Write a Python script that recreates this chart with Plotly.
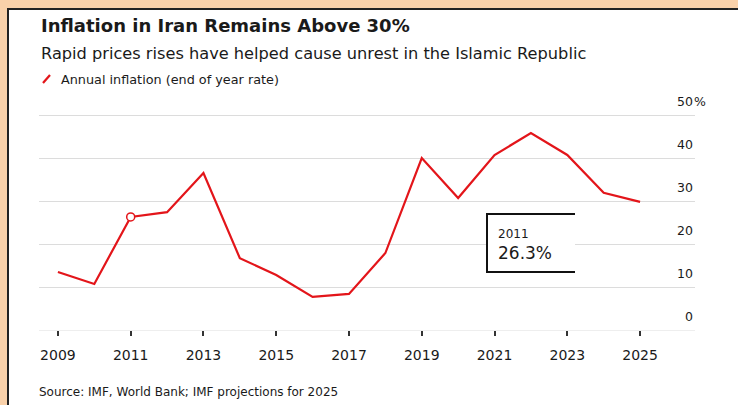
import plotly.graph_objects as go

years = list(range(2009, 2026))
inflation = [13.5, 10.7, 26.3, 27.4, 36.5, 16.7, 12.8, 7.7, 8.4, 17.9, 40.0, 30.7, 40.7, 45.8, 40.7, 31.9, 29.8]
x_tick_vals = [2009, 2011, 2013, 2015, 2017, 2019, 2021, 2023, 2025]
x_tick_text = [str(v) for v in x_tick_vals]
y_tick_vals = [0, 10, 20, 30, 40, 50]
y_tick_text = ["0", "10", "20", "30", "40", "50"]
y_unit = "%"

title = "Inflation in Iran Remains Above 30%"
subtitle = "Rapid prices rises have helped cause unrest in the Islamic Republic"
legend_label = "Annual inflation (end of year rate)"
source = "Source: IMF, World Bank; IMF projections for 2025"
callout_year = 2011
callout_value = 26.3

W, H = 738, 405
L, R, T, B = 39, 695, 113, 330  # plot area in pixels
PW, PH = R - L, B - T
Y_TOP = (B - T) / 4.3

def px(xp):
    return (xp - L) / PW

def py(yp):
    return (B - yp) / PH

RED = "#E3151A"
PEACH = "#F9D1AA"
TXT = "#1a1a1a"
FONT = "DejaVu Sans, Liberation Sans, Arial, sans-serif"

fig = go.Figure()
fig.add_trace(go.Scatter(
    x=years, y=inflation, mode="lines",
    line=dict(color=RED, width=2.2), hoverinfo="skip", showlegend=False))
ci = years.index(callout_year)
fig.add_trace(go.Scatter(
    x=[years[ci]], y=[inflation[ci]], mode="markers",
    marker=dict(size=8, color="white", line=dict(color=RED, width=1.5)),
    hoverinfo="skip", showlegend=False))

shapes = [
    # white panel with dark frame
    dict(type="rect", xref="paper", yref="paper",
         x0=px(8), x1=px(745), y0=py(412), y1=py(9),
         fillcolor="white", line=dict(color="#222", width=2), layer="below"),
    # legend swatch
    dict(type="line", xref="paper", yref="paper",
         x0=px(43), x1=px(50), y0=py(83), y1=py(75),
         line=dict(color=RED, width=2.2)),
    # callout box fill
    dict(type="rect", xref="paper", yref="paper",
         x0=px(487), x1=px(575), y0=py(272), y1=py(214),
         fillcolor="white", line=dict(width=0)),
    # callout bracket
    dict(type="path", xref="paper", yref="paper",
         path=f"M {px(575)} {py(214)} L {px(487)} {py(214)} L {px(487)} {py(272)} L {px(575)} {py(272)}",
         line=dict(color="#111", width=2)),
]

annotations = [
    dict(text=f"<b>{title}</b>", x=px(39), y=py(25), xref="paper", yref="paper",
         xanchor="left", yanchor="middle", showarrow=False,
         font=dict(size=18, color=TXT, family=FONT)),
    dict(text=subtitle, x=px(39), y=py(53), xref="paper", yref="paper",
         xanchor="left", yanchor="middle", showarrow=False,
         font=dict(size=16.2, color=TXT, family=FONT)),
    dict(text=legend_label, x=px(59), y=py(79), xref="paper", yref="paper",
         xanchor="left", yanchor="middle", showarrow=False,
         font=dict(size=12.8, color=TXT, family=FONT)),
    dict(text=source, x=px(37), y=py(392), xref="paper", yref="paper",
         xanchor="left", yanchor="middle", showarrow=False,
         font=dict(size=12, color=TXT, family=FONT)),
    dict(text=str(callout_year), x=px(496), y=py(234), xref="paper", yref="paper",
         xanchor="left", yanchor="middle", showarrow=False,
         font=dict(size=12, color=TXT, family=FONT)),
    dict(text=f"{callout_value}%", x=px(496), y=py(253), xref="paper", yref="paper",
         xanchor="left", yanchor="middle", showarrow=False,
         font=dict(size=17, color=TXT, family=FONT)),
]

# y-axis labels: right-aligned numbers sitting above their gridlines
for v, t in zip(y_tick_vals, y_tick_text):
    annotations.append(dict(text=t, x=px(694), y=v, xref="paper", yref="y", yshift=14,
                            xanchor="right", yanchor="middle", showarrow=False, borderpad=0,
                            font=dict(size=12.5, color=TXT, family=FONT)))
annotations.append(dict(text=y_unit, x=px(694), y=y_tick_vals[-1], xref="paper", yref="y",
                        yshift=14, xshift=-1, xanchor="left", yanchor="middle", showarrow=False,
                        borderpad=0, font=dict(size=12.5, color=TXT, family=FONT)))

fig.update_layout(
    width=W, height=H,
    margin=dict(l=L, r=W - R, t=T, b=H - B, pad=0),
    paper_bgcolor=PEACH, plot_bgcolor="rgba(0,0,0,0)",
    font=dict(family=FONT, color=TXT),
    shapes=shapes, annotations=annotations,
    xaxis=dict(range=[2008.48, 2026.51], tickvals=x_tick_vals, ticktext=x_tick_text,
               showgrid=False, zeroline=False, showline=False,
               ticks="outside", ticklen=5, tickwidth=1.5, tickcolor="#333",
               tickfont=dict(size=14, color=TXT), ticklabelstandoff=7, fixedrange=True),
    yaxis=dict(range=[0, Y_TOP], side="right", tickvals=y_tick_vals,
               showgrid=True, gridcolor="#dcdcdc", gridwidth=1.3,
               zeroline=True, zerolinecolor="#eeeeee", zerolinewidth=1,
               showline=False, ticks="", showticklabels=False, fixedrange=True),
)

fig.write_html("out.html")
